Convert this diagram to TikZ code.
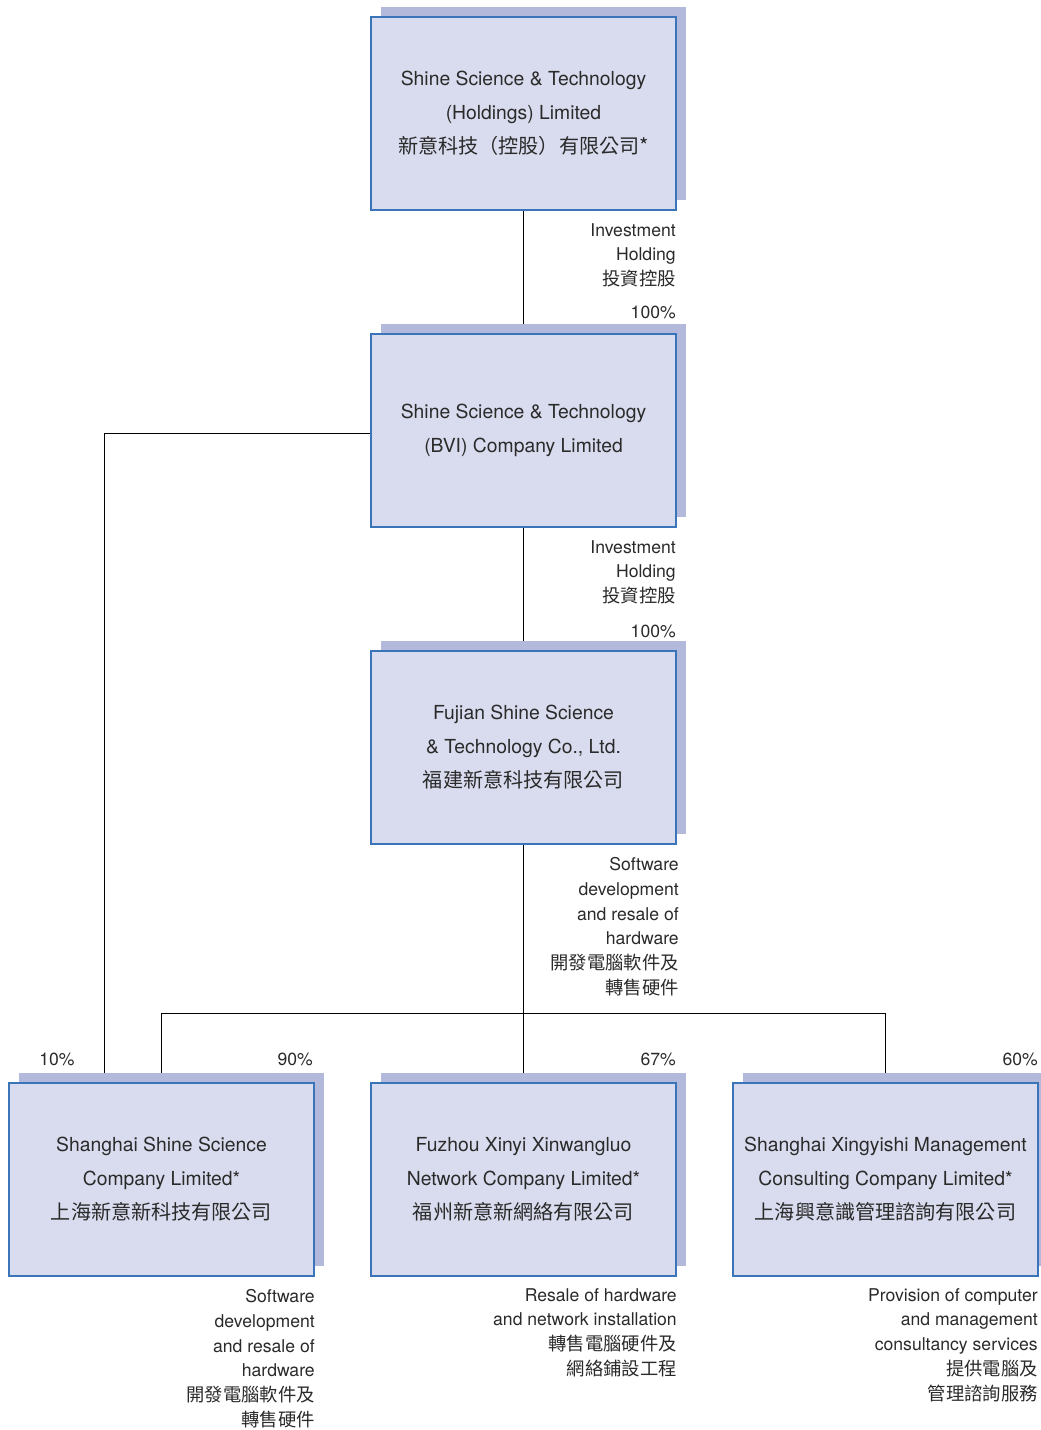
\documentclass[tikz,border=0pt]{standalone}
\usepackage{fontspec}
\setmainfont{TeX Gyre Heros}
\newfontfamily\cjk[Scale=1.04]{Noto Sans CJK TC}
\usetikzlibrary{shadows,backgrounds}
\definecolor{boxfill}{HTML}{D9DCEE}
\definecolor{boxshade}{HTML}{B3B9DA}
\definecolor{boxline}{HTML}{3B75B9}
\definecolor{ink}{HTML}{2A2A2A}
\tikzset{
  company/.style={draw=boxline,line width=.8pt,fill=boxfill,minimum width=228.75pt,minimum height=144.75pt,
    inner sep=0pt,align=center,text=ink,font=\fontsize{14.5}{25.5}\selectfont,
    general shadow={shadow xshift=7.5pt,shadow yshift=7.5pt,fill=boxshade}},
  note/.style={anchor=north east,align=right,inner sep=0pt,text=ink,font=\fontsize{13.2}{18.6}\selectfont},
  pct/.style={inner sep=0pt,text=ink,font=\fontsize{13.2}{16}\selectfont},
  link/.style={line width=.7pt}
}

\begin{document}
\begin{tikzpicture}[x=0.75pt,y=-0.75pt]
		\useasboundingbox (0,0) rectangle (1040,1430);

		\node(holdings) at (523.5,113.5)[company]{Shine Science \& Technology\\(Holdings) Limited\\{\cjk 新意科技（控股）有限公司*}};
		\node(bvi) at (523.5,430.5)[company]{Shine Science \& Technology\\(BVI) Company Limited};
		\node(fujian) at (523.5,747.5)[company]{Fujian Shine Science\\\& Technology Co., Ltd.\\{\cjk 福建新意科技有限公司}};
		\node(shanghai) at (161.5,1179.5)[company]{Shanghai Shine Science\\Company Limited*\\{\cjk 上海新意新科技有限公司}};
		\node(fuzhou) at (523.5,1179.5)[company]{Fuzhou Xinyi Xinwangluo\\Network Company Limited*\\{\cjk 福州新意新網絡有限公司}};
		\node(xingyishi) at (885.5,1179.5)[company]{Shanghai Xingyishi Management\\Consulting Company Limited*\\{\cjk 上海興意識管理諮詢有限公司}};

		\node(inv1) at (676,223)[note]{Investment\\Holding\\{\cjk 投資控股}};
		\node(p1) at (676,312)[pct,anchor=east]{100\%};
		\node(inv2) at (676,540)[note]{Investment\\Holding\\{\cjk 投資控股}};
		\node(p2) at (676,631)[pct,anchor=east]{100\%};
		\node(sw) at (679,857)[note]{Software\\development\\and resale of\\hardware\\{\cjk 開發電腦軟件及}\\{\cjk 轉售硬件}};

		\node(p3) at (39,1059)[pct,anchor=west]{10\%};
		\node(p4) at (313,1059)[pct,anchor=east]{90\%};
		\node(p5) at (676,1059)[pct,anchor=east]{67\%};
		\node(p6) at (1038,1059)[pct,anchor=east]{60\%};

		\node(sw2) at (315,1289)[note]{Software\\development\\and resale of\\hardware\\{\cjk 開發電腦軟件及}\\{\cjk 轉售硬件}};
		\node(resale) at (677,1288)[note]{Resale of hardware\\and network installation\\{\cjk 轉售電腦硬件及}\\{\cjk 網絡鋪設工程}};
		\node(consult) at (1038,1288)[note]{Provision of computer\\and management\\consultancy services\\{\cjk 提供電腦及}\\{\cjk 管理諮詢服務}};

		\coordinate(bus) at (523.5,1013);
		\coordinate(left) at (104,433);

		\begin{scope}[on background layer]
		\draw[link] (holdings) to (bvi) to (fujian) to (fuzhou);
		\draw[link] (shanghai) |- (bus) -| (xingyishi);
		\draw[link] (left -| bvi) -- (left) -- (left |- shanghai);
		\end{scope}
	\end{tikzpicture}
\end{document}
